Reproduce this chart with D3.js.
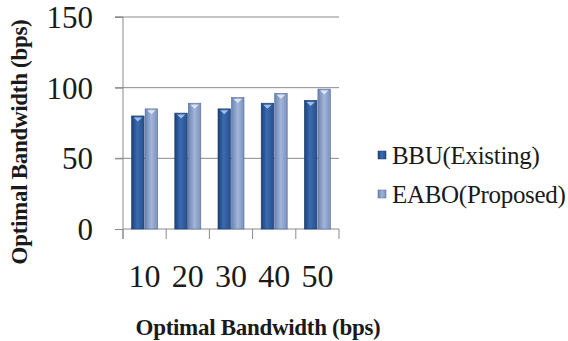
<!DOCTYPE html>
<html>
<head>
<meta charset="utf-8">
<script src="https://cdn.jsdelivr.net/npm/d3@7"></script>
<style>
  html, body { margin: 0; padding: 0; background: #fff; }
  svg { display: block; }
  text { font-family: "Liberation Serif", "Times New Roman", serif; fill: #1a1a1a; }
</style>
</head>
<body>
<svg id="chart" width="568" height="341"></svg>
<script>
// Bandwidth by load level
const categories = ["10", "20", "30", "40", "50"];
const seriesNames = ["BBU(Existing)", "EABO(Proposed)"];
const bbuValues  = [80, 82, 85, 89, 91];
const eaboValues = [85, 89, 93, 96, 99];
const yTicks = [0, 50, 100, 150];
const axisTitle = "Optimal Bandwidth (bps)";

const rows = categories.map((c, i) => ({ cat: c, vals: [bbuValues[i], eaboValues[i]] }));

const serif = "'Liberation Serif', 'Times New Roman', serif";
const svg = d3.select("#chart");
const plot = { left: 123, right: 339, top: 17, bottom: 229 };

const x = d3.scaleBand().domain(categories)
  .range([plot.left, plot.right]).paddingInner(0.375).paddingOuter(0.1875);
const xInner = d3.scaleBand().domain(seriesNames).range([0, x.bandwidth()]).padding(0);
const y = d3.scaleLinear().domain([0, 150]).range([plot.bottom, plot.top]);

// gradients for the bevelled bars
const defs = svg.append("defs");
const palettes = [
  { id: "g0", stops: [["0%", "#1b417a"], ["45%", "#3a6bb1"], ["100%", "#284f8c"]], hi: "#a9c8ee", edge: "#1a3866" },
  { id: "g1", stops: [["0%", "#6a83b4"], ["50%", "#a3b6d9"], ["100%", "#7a90be"]], hi: "#e2eaf6", edge: "#566b97" }
];
palettes.forEach(p => {
  const g = defs.append("linearGradient").attr("id", p.id)
    .attr("x1", "0%").attr("x2", "100%").attr("y1", "0%").attr("y2", "0%");
  p.stops.forEach(s => g.append("stop").attr("offset", s[0]).attr("stop-color", s[1]));
});

// gridlines with outward ticks
svg.append("g").selectAll("line").data(yTicks.filter(t => t > 0)).join("line")
  .attr("x1", plot.left - 8).attr("x2", plot.right)
  .attr("y1", d => y(d)).attr("y2", d => y(d))
  .attr("stroke", "#8a8a8a").attr("stroke-width", 1);

// y axis labels
const yAxis = d3.axisLeft(y).tickValues(yTicks).tickSize(8).tickPadding(22);
const gy = svg.append("g").attr("transform", `translate(${plot.left},0)`).call(yAxis);
gy.select(".domain").attr("stroke", "#8a8a8a").attr("d", `M-8,${plot.top}H0V${plot.bottom + 10}`);
gy.selectAll(".tick line").attr("stroke", "#8a8a8a");
gy.selectAll(".tick text").attr("font-size", 31).attr("fill", "#1a1a1a")
  .attr("font-family", serif).attr("dy", "0.34em");

// x axis with boundary ticks
svg.append("line").attr("x1", plot.left).attr("x2", plot.right)
  .attr("y1", plot.bottom).attr("y2", plot.bottom).attr("stroke", "#8a8a8a");
const boundaries = categories.map(c => x(c) - x.step() * x.paddingInner() / 2);
boundaries.push(plot.right);
svg.append("g").selectAll("line").data(boundaries).join("line")
  .attr("x1", d => d).attr("x2", d => d)
  .attr("y1", plot.bottom).attr("y2", plot.bottom + 10)
  .attr("stroke", "#8a8a8a");
svg.append("g").selectAll("text").data(categories).join("text")
  .attr("x", d => x(d) + x.bandwidth() / 2).attr("y", 287)
  .attr("text-anchor", "middle").attr("font-family", serif).attr("font-size", 32).text(d => d);

// bars
const groups = svg.append("g").selectAll("g").data(rows).join("g")
  .attr("transform", d => `translate(${x(d.cat)},0)`);
groups.each(function (d) {
  const g = d3.select(this);
  d.vals.forEach((v, i) => {
    const bx = xInner(seriesNames[i]);
    const w = xInner.bandwidth();
    const top = y(v);
    const p = palettes[i];
    g.append("rect").attr("x", bx + 0.5).attr("y", top).attr("width", w - 1)
      .attr("height", y(0) - top).attr("fill", `url(#${p.id})`)
      .attr("stroke", p.edge).attr("stroke-width", 0.6);
    g.append("path")
      .attr("d", `M${bx + 2.5},${top + 1.5}L${bx + w - 2.5},${top + 1.5}L${bx + w / 2},${top + 5.5}Z`)
      .attr("fill", p.hi).attr("opacity", 0.9);
  });
});

// legend
const legend = svg.append("g").attr("transform", "translate(378,0)");
const legendY = [155, 194];
seriesNames.forEach((name, i) => {
  const p = palettes[i];
  legend.append("rect").attr("x", 0).attr("y", legendY[i] - 4).attr("width", 8).attr("height", 8)
    .attr("fill", `url(#${p.id})`).attr("stroke", p.edge).attr("stroke-width", 0.5);
  legend.append("text").attr("x", 14).attr("y", legendY[i]).attr("dy", "0.35em")
    .attr("font-family", serif).attr("font-size", 25).attr("letter-spacing", -0.3).text(name);
});

// axis titles
svg.append("text").attr("x", 258).attr("y", 335).attr("text-anchor", "middle")
  .attr("font-family", serif).attr("font-size", 23).attr("font-weight", "bold")
  .attr("letter-spacing", -0.3).text(axisTitle);
svg.append("text").attr("transform", "translate(27,142) rotate(-90)").attr("text-anchor", "middle")
  .attr("font-family", serif).attr("font-size", 23).attr("font-weight", "bold")
  .attr("letter-spacing", -0.3).text(axisTitle);
</script>
</body>
</html>
